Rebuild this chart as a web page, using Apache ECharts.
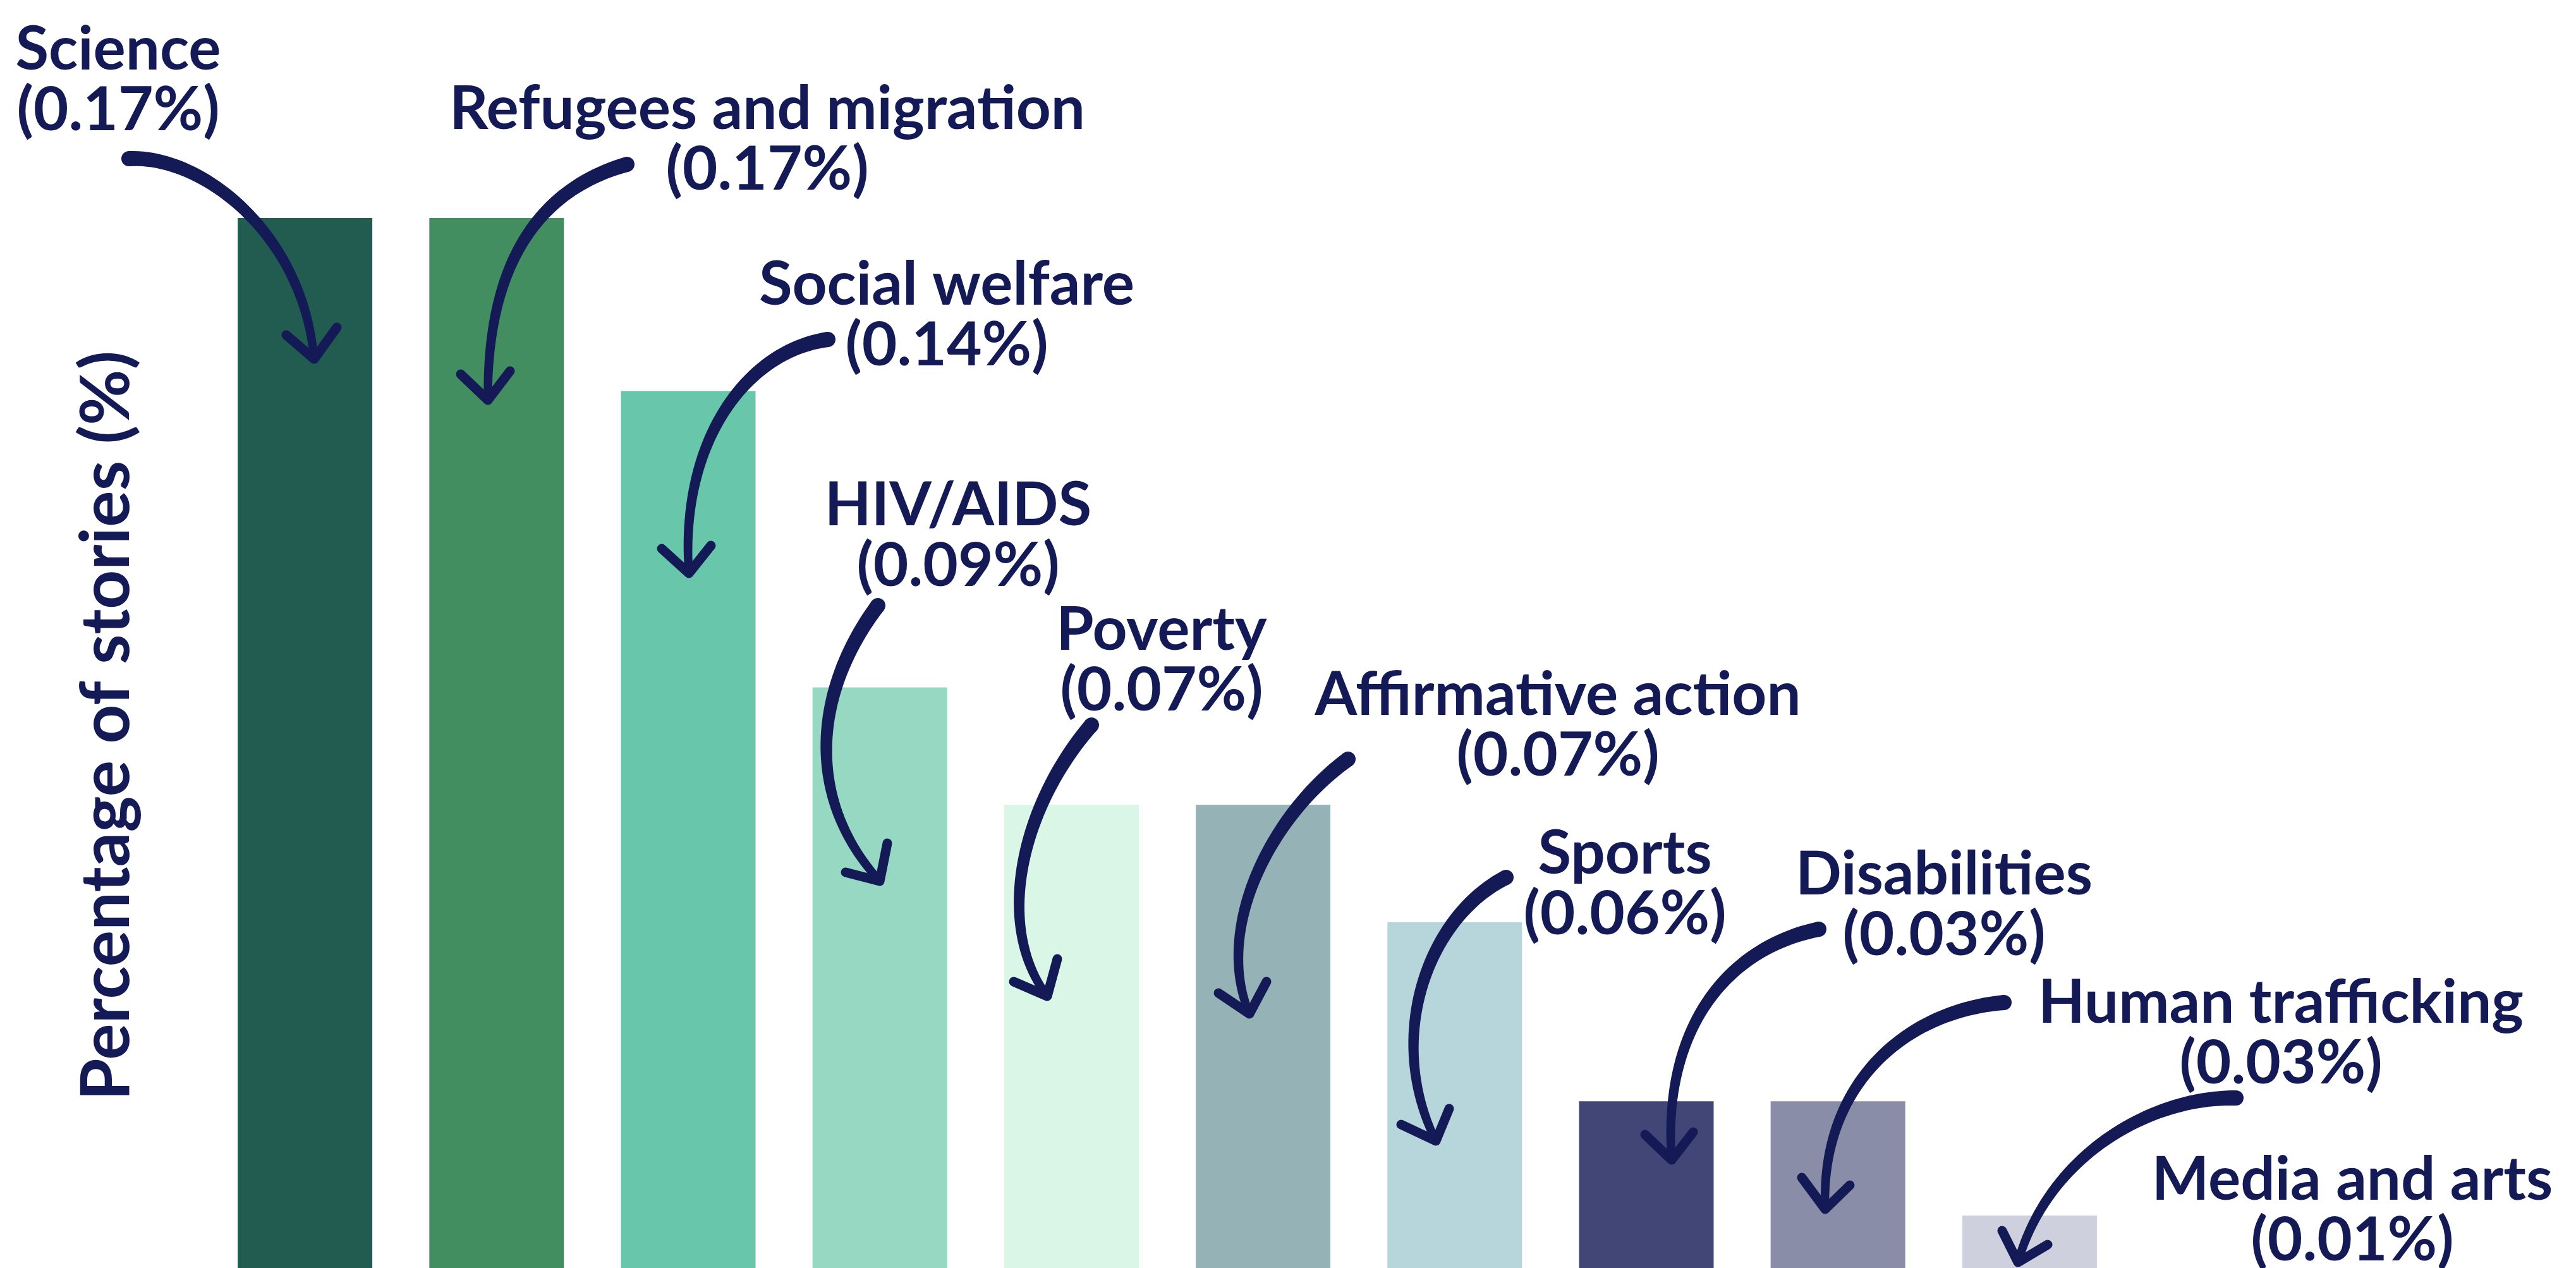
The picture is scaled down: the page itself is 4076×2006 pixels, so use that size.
<!DOCTYPE html>
<html>
<head>
<meta charset="utf-8">
<title>Percentage of stories</title>
<script src="https://cdn.jsdelivr.net/npm/echarts@6/dist/echarts.min.js"></script>
<style>
  html, body { margin: 0; padding: 0; background: #ffffff; }
  #chart { width: 4076px; height: 2006px; }
</style>
</head>
<body>
<div id="chart"></div>
<script>
const categories = ['Science', 'Refugees and migration', 'Social welfare', 'HIV/AIDS', 'Poverty',
    'Affirmative action', 'Sports', 'Disabilities', 'Human trafficking', 'Media and arts'];
const values = [0.170, 0.170, 0.142, 0.094, 0.075, 0.075, 0.056, 0.027, 0.027, 0.0085];
const valueLabels = ['0.17%', '0.17%', '0.14%', '0.09%', '0.07%', '0.07%', '0.06%', '0.03%', '0.03%', '0.01%'];
const barColors = ['#225b50', '#428e60', '#68c7ab', '#97d8c2', '#daf6e6',
    '#95b2b7', '#b7d6db', '#424676', '#8a8da8', '#ced1dd'];

const navy = '#141a55';
const fontFamily = 'Lato, "Noto Sans", sans-serif';

// annotation layout (pixels): label centre, arrow curve (p0, c1, c2, tip), arrowhead arms
const labelPos = [[187, 127], [1214, 221], [1498, 499], [1516, 848], [1838, 1045],
    [2465, 1148], [2571, 1399], [3076, 1432], [3609, 1635], [3722, 1915]];
const arrowCurves = [
    [204, 251, 320, 245, 480, 370, 497, 568],
    [992, 260, 850, 300, 770, 420, 772, 633],
    [1310, 537, 1180, 555, 1075, 700, 1090, 907],
    [1389, 958, 1290, 1090, 1270, 1260, 1392, 1394],
    [1727, 1147, 1620, 1270, 1570, 1460, 1657, 1576],
    [2133, 1201, 2010, 1290, 1920, 1470, 1977, 1604],
    [2383, 1388, 2260, 1450, 2190, 1640, 2272, 1805],
    [2878, 1470, 2730, 1500, 2630, 1630, 2645, 1835],
    [3171, 1586, 3010, 1600, 2880, 1720, 2888, 1913],
    [3538, 1737, 3400, 1735, 3240, 1830, 3193, 1997]
];
const arrowArms = [
    [[453, 530], [533, 518]],
    [[729, 592], [807, 587]],
    [[1047, 868], [1125, 863]],
    [[1338, 1380], [1404, 1334]],
    [[1604, 1553], [1673, 1517]],
    [[1928, 1571], [2004, 1553]],
    [[2217, 1779], [2293, 1754]],
    [[2603, 1795], [2679, 1791]],
    [[2851, 1863], [2927, 1875]],
    [[3168, 1947], [3240, 1969]]
];

// tapered brush stroke along a cubic bezier
function taperedStroke(c, w0, w1) {
    const left = [], right = [];
    const n = 48;
    for (let k = 0; k <= n; k++) {
        const t = k / n, u = 1 - t;
        const x = u * u * u * c[0] + 3 * u * u * t * c[2] + 3 * u * t * t * c[4] + t * t * t * c[6];
        const y = u * u * u * c[1] + 3 * u * u * t * c[3] + 3 * u * t * t * c[5] + t * t * t * c[7];
        const dx = 3 * u * u * (c[2] - c[0]) + 6 * u * t * (c[4] - c[2]) + 3 * t * t * (c[6] - c[4]);
        const dy = 3 * u * u * (c[3] - c[1]) + 6 * u * t * (c[5] - c[3]) + 3 * t * t * (c[7] - c[5]);
        const len = Math.sqrt(dx * dx + dy * dy) || 1;
        const w = (w0 + (w1 - w0) * t) / 2;
        left.push([x - dy / len * w, y + dx / len * w]);
        right.push([x + dy / len * w, y - dx / len * w]);
    }
    return left.concat(right.reverse());
}

const graphics = [{
    type: 'text',
    x: 169,
    y: 1148,
    rotation: Math.PI / 2,
    z: 100,
    style: {
        text: 'Percentage of stories (%)',
        align: 'center',
        verticalAlign: 'middle',
        fontSize: 108,
        fontWeight: 'bold',
        fontFamily: fontFamily,
        fill: navy
    }
}];

categories.forEach(function (name, i) {
    const c = arrowCurves[i];
    graphics.push({
        type: 'polygon',
        z: 100,
        shape: {points: taperedStroke(c, 24, 13)},
        style: {fill: navy}
    });
    graphics.push({
        type: 'circle',
        z: 100,
        shape: {cx: c[0], cy: c[1], r: 12},
        style: {fill: navy}
    });
    graphics.push({
        type: 'polyline',
        z: 100,
        shape: {points: [arrowArms[i][0], [c[6], c[7]], arrowArms[i][1]]},
        style: {stroke: navy, lineWidth: 15, lineCap: 'round', lineJoin: 'round', fill: null}
    });
    graphics.push({
        type: 'text',
        x: labelPos[i][0],
        y: labelPos[i][1],
        z: 100,
        style: {
            text: name + '\n(' + valueLabels[i] + ')',
            align: 'center',
            verticalAlign: 'middle',
            fontSize: 96,
            lineHeight: 96,
            fontWeight: 'bold',
            fontFamily: fontFamily,
            fill: navy
        }
    });
});

const chart = echarts.init(document.getElementById('chart'), null, {renderer: 'canvas'});
chart.setOption({
    animation: false,
    backgroundColor: '#ffffff',
    grid: {left: 331, right: 713, top: 52, bottom: 0},
    xAxis: {
        type: 'category',
        data: categories,
        show: false
    },
    yAxis: {
        type: 'value',
        min: 0,
        max: 0.2,
        show: false
    },
    series: [{
        type: 'bar',
        barWidth: 213,
        data: values.map(function (v, i) {
            return {value: v, itemStyle: {color: barColors[i]}};
        }),
        z: 1
    }],
    graphic: {elements: graphics}
});
</script>
</body>
</html>
